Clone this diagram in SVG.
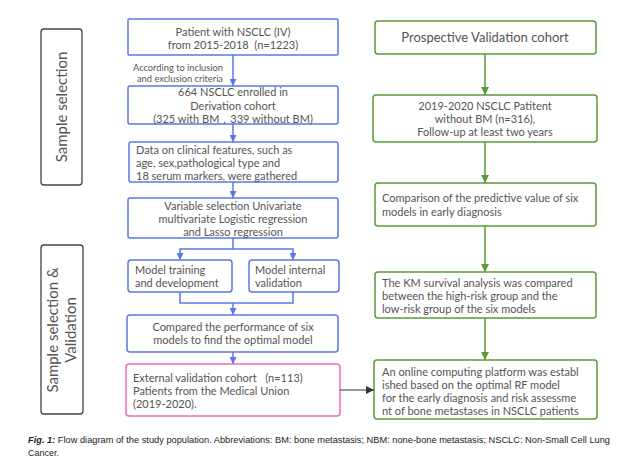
<svg xmlns="http://www.w3.org/2000/svg" width="639" height="468" viewBox="0 0 639 468">
<defs>
<marker id="ab" viewBox="0 0 10 10" refX="10" refY="5" markerWidth="7" markerHeight="7" markerUnits="userSpaceOnUse" orient="auto"><path d="M0,0 L10,5 L0,10 z" fill="#5B78E6"/></marker>
<marker id="ag" viewBox="0 0 10 10" refX="10" refY="5" markerWidth="8" markerHeight="8" markerUnits="userSpaceOnUse" orient="auto"><path d="M0,0 L10,5 L0,10 z" fill="#5A9A37"/></marker>
<marker id="ak" viewBox="0 0 10 10" refX="10" refY="5" markerWidth="8" markerHeight="8" markerUnits="userSpaceOnUse" orient="auto"><path d="M0,0 L10,5 L0,10 z" fill="#333"/></marker>
</defs>
<style>
text{font-family:Lato,"Open Sans",sans-serif;fill:#555;font-size:11px}
.c{text-anchor:middle}
.pre{white-space:pre}
.b{fill:#fff;stroke:#5B78E6;stroke-width:1.5}
.g{fill:#fff;stroke:#5A9A37;stroke-width:1.5}
.p{fill:#fff;stroke:#F06EB4;stroke-width:1.5}
.s{fill:#fff;stroke:#444;stroke-width:1.3}
.lb{fill:none;stroke:#5B78E6;stroke-width:1.5}
.lg{fill:none;stroke:#5A9A37;stroke-width:1.5}
.side{font-size:15px;text-anchor:middle;fill:#555}
.small{font-size:10px}
.cap{font-family:"Liberation Sans",sans-serif;font-size:9px;fill:#222}
</style>
<rect width="639" height="468" fill="#fff"/>

<g id="side1"><rect class="s" x="41" y="29" width="41" height="156" rx="3"/><text class="side" transform="translate(67,107) rotate(-90)">Sample selection</text></g>
<g id="side2"><rect class="s" x="41" y="245" width="42" height="169" rx="3"/><text class="side" transform="translate(58,330) rotate(-90)">Sample selection &amp;</text><text class="side" transform="translate(76,330) rotate(-90)">Validation</text></g>

<g id="n1"><rect class="b" x="128" y="19" width="210" height="36" rx="1"/><text class="c" x="233" y="36">Patient with NSCLC (IV)</text><text class="c pre" x="233" y="49">from 2015-2018  (n=1223)</text></g>
<g id="n2"><rect class="b" x="128" y="86" width="210" height="38" rx="2"/><text class="c" x="233" y="96">664 NSCLC enrolled in</text><text class="c" x="233" y="110">Derivation cohort</text><text class="c" x="233" y="123">(325 with BM，339 without BM)</text></g>
<g id="n3"><rect class="b" x="129" y="142" width="209" height="40" rx="2"/><text x="136" y="154">Data on clinical features, such as</text><text x="136" y="167">age, sex,pathological type and</text><text x="136" y="180">18 serum markers, were gathered</text></g>
<g id="n4"><rect class="b" x="128" y="198" width="210" height="40" rx="2"/><text class="c" x="233" y="210">Variable selection Univariate</text><text class="c" x="233" y="223">multivariate Logistic regression</text><text class="c" x="233" y="236">and Lasso regression</text></g>
<g id="n5a"><rect class="b" x="128" y="260" width="104" height="32" rx="3"/><text x="135" y="274">Model training</text><text x="135" y="287">and development</text></g>
<g id="n5b"><rect class="b" x="249" y="260" width="90" height="32" rx="3"/><text x="255" y="274">Model internal</text><text x="255" y="287">validation</text></g>
<g id="n6"><rect class="b" x="127" y="315" width="211" height="37" rx="3"/><text class="c" x="233" y="331">Compared the performance of six</text><text class="c" x="233" y="344">models to find the optimal model</text></g>
<g id="n7"><rect class="p" x="126" y="364" width="214" height="52" rx="3"/><text class="pre" x="133" y="382">External validation cohort   (n=113)</text><text x="133" y="395">Patients from the Medical Union</text><text x="133" y="408">(2019-2020).</text></g>

<g id="r1"><rect class="g" x="375" y="21" width="221" height="33" rx="3"/><text class="c" x="485" y="42" style="font-size:13px">Prospective Validation cohort</text></g>
<g id="r2"><rect class="g" x="373" y="95" width="224" height="47" rx="3"/><text class="c" x="485" y="110">2019-2020 NSCLC Patitent</text><text class="c" x="485" y="123">without BM (n=316),</text><text class="c" x="485" y="136">Follow-up at least two years</text></g>
<g id="r3"><rect class="g" x="375" y="183" width="221" height="43" rx="3"/><text x="382" y="202">Comparison of the predictive value of six</text><text x="382" y="216">models in early diagnosis</text></g>
<g id="r4"><rect class="g" x="375" y="272" width="221" height="46" rx="3"/><text x="382" y="287">The KM survival analysis was compared</text><text x="382" y="300">between the high-risk group and the</text><text x="382" y="313">low-risk group of the six models</text></g>
<g id="r5"><rect class="g" x="374" y="360" width="223" height="59" rx="3"/><text x="382" y="376">An online computing platform was establ</text><text x="382" y="389">ished based on the optimal RF model</text><text x="382" y="402">for the early diagnosis and risk assessme</text><text x="382" y="415">nt of bone metastases in NSCLC patients</text></g>

<g id="connectors">
<line class="lb" x1="233" y1="55" x2="233" y2="86" marker-end="url(#ab)"/>
<text class="small" x="133" y="71" textLength="90" lengthAdjust="spacingAndGlyphs">According to inclusion</text>
<text class="small" x="137" y="82" textLength="86" lengthAdjust="spacingAndGlyphs">and exclusion criteria</text>
<line class="lb" x1="233" y1="124" x2="233" y2="142" marker-end="url(#ab)"/>
<line class="lb" x1="233" y1="182" x2="233" y2="198" marker-end="url(#ab)"/>
<path class="lb" d="M233,238 V249 H180 V260" marker-end="url(#ab)"/>
<path class="lb" d="M233,249 H293 V260" marker-end="url(#ab)"/>
<path class="lb" d="M180,292 V303 H293 V292"/>
<line class="lb" x1="233" y1="303" x2="233" y2="315" marker-end="url(#ab)"/>
<line class="lb" x1="233" y1="352" x2="233" y2="364" marker-end="url(#ab)"/>
<line class="lg" x1="485" y1="54" x2="485" y2="95" marker-end="url(#ag)"/>
<line class="lg" x1="485" y1="142" x2="485" y2="183" marker-end="url(#ag)"/>
<line class="lg" x1="485" y1="226" x2="485" y2="272" marker-end="url(#ag)"/>
<line class="lg" x1="485" y1="318" x2="485" y2="360" marker-end="url(#ag)"/>
<line x1="340" y1="390" x2="374" y2="390" stroke="#333" stroke-width="1.2" marker-end="url(#ak)"/>
</g>

<g id="caption">
<text class="cap" x="28" y="443" textLength="582" lengthAdjust="spacingAndGlyphs"><tspan font-weight="bold" font-style="italic">Fig. 1:</tspan> Flow diagram of the study population. Abbreviations: BM: bone metastasis; NBM: none-bone metastasis; NSCLC: Non-Small Cell Lung</text>
<text class="cap" x="28" y="456">Cancer.</text>
</g>
</svg>
